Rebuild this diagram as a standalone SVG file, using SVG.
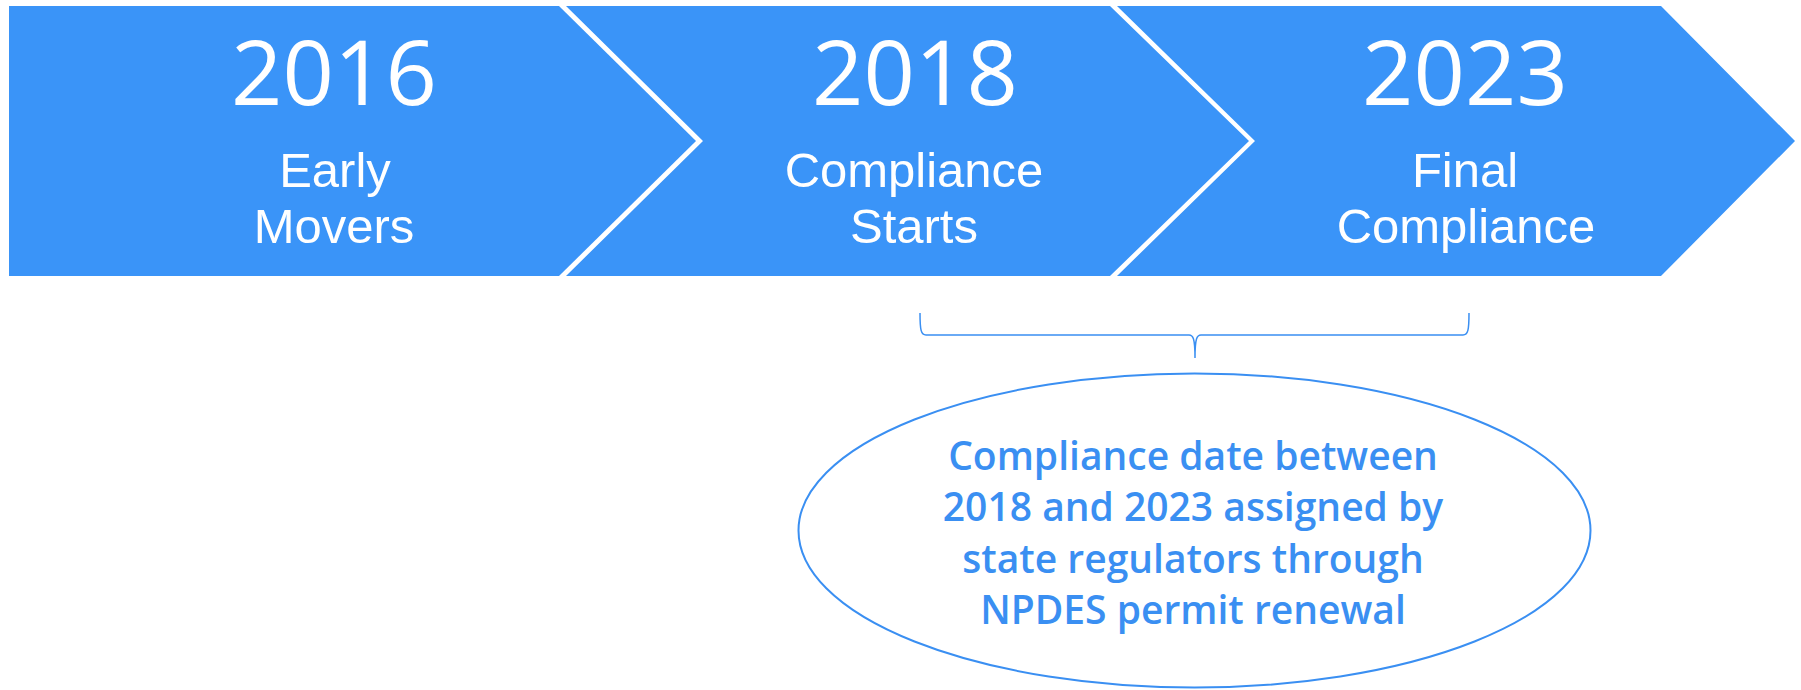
<svg xmlns="http://www.w3.org/2000/svg" width="1801" height="690" viewBox="0 0 1801 690">
<style>
.chev{fill:#3A94F8;}
.year{font-family:"Open Sans","Liberation Sans",sans-serif;font-size:90px;fill:#ffffff;text-anchor:middle;}
.lbl{font-family:"Liberation Sans",Arial,sans-serif;font-size:49px;fill:#ffffff;text-anchor:middle;}
.note{font-family:"Open Sans","Liberation Sans",sans-serif;font-size:39px;font-weight:600;fill:#3A8FF2;text-anchor:middle;}
.line{fill:none;stroke:#3A8FF2;}
</style>
<rect width="1801" height="690" fill="#ffffff"/>
<g id="node-2016">
<polygon class="chev" points="9,6 559,6 696,141 559,276 9,276"/>
<text class="year" x="334" y="105">2016</text>
<text class="lbl" x="335" y="187">Early</text>
<text class="lbl" x="334" y="243">Movers</text>
</g>
<g id="node-2018">
<polygon class="chev" points="566,6 1110,6 1249,141 1110,276 566,276 703,141"/>
<text class="year" x="915" y="105">2018</text>
<text class="lbl" x="914" y="187">Compliance</text>
<text class="lbl" x="914" y="243">Starts</text>
</g>
<g id="node-2023">
<polygon class="chev" points="1117,6 1661,6 1795,141 1661,276 1117,276 1255,141"/>
<text class="year" x="1465" y="105">2023</text>
<text class="lbl" x="1465" y="187">Final</text>
<text class="lbl" x="1466" y="243">Compliance</text>
</g>
<g id="connectors">
<path class="line" stroke-width="1.5" d="M920,313 C920,330 921,335 926,335 L1189,335 C1193,335 1195,338 1195,358 C1195,338 1197,335 1201,335 L1463,335 C1468,335 1469,330 1469,313"/>
</g>
<g id="node-note">
<ellipse class="line" stroke-width="2" cx="1194.5" cy="530.5" rx="396" ry="157"/>
<text class="note" x="1193" y="470">Compliance date between</text>
<text class="note" x="1193" y="521">2018 and 2023 assigned by</text>
<text class="note" x="1193" y="573">state regulators through</text>
<text class="note" x="1193" y="624">NPDES permit renewal</text>
</g>
</svg>
